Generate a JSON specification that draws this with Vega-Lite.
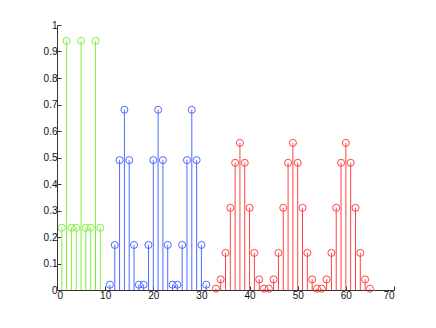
{
  "$schema": "https://vega.github.io/schema/vega-lite/v6.json",
  "width": 337,
  "height": 265,
  "autosize": {"type": "none"},
  "padding": {"left": 57, "top": 25, "right": 42, "bottom": 38},
  "background": "white",
  "config": {
    "view": {"stroke": null},
    "font": "Liberation Sans",
    "axis": {
      "grid": false,
      "domainColor": "#333333",
      "tickColor": "#333333",
      "tickSize": -4,
      "labelFont": "Liberation Sans",
      "labelFontSize": 10,
      "labelColor": "#111111",
      "title": null
    }
  },
  "data": {
    "values": [
      {"x": 1, "y": 0.235, "s": "g"},
      {"x": 2, "y": 0.94, "s": "g"},
      {"x": 3, "y": 0.235, "s": "g"},
      {"x": 4, "y": 0.235, "s": "g"},
      {"x": 5, "y": 0.94, "s": "g"},
      {"x": 6, "y": 0.235, "s": "g"},
      {"x": 7, "y": 0.235, "s": "g"},
      {"x": 8, "y": 0.94, "s": "g"},
      {"x": 9, "y": 0.235, "s": "g"},
      {"x": 11, "y": 0.02, "s": "b"},
      {"x": 12, "y": 0.17, "s": "b"},
      {"x": 13, "y": 0.49, "s": "b"},
      {"x": 14, "y": 0.68, "s": "b"},
      {"x": 15, "y": 0.49, "s": "b"},
      {"x": 16, "y": 0.17, "s": "b"},
      {"x": 17, "y": 0.02, "s": "b"},
      {"x": 18, "y": 0.02, "s": "b"},
      {"x": 19, "y": 0.17, "s": "b"},
      {"x": 20, "y": 0.49, "s": "b"},
      {"x": 21, "y": 0.68, "s": "b"},
      {"x": 22, "y": 0.49, "s": "b"},
      {"x": 23, "y": 0.17, "s": "b"},
      {"x": 24, "y": 0.02, "s": "b"},
      {"x": 25, "y": 0.02, "s": "b"},
      {"x": 26, "y": 0.17, "s": "b"},
      {"x": 27, "y": 0.49, "s": "b"},
      {"x": 28, "y": 0.68, "s": "b"},
      {"x": 29, "y": 0.49, "s": "b"},
      {"x": 30, "y": 0.17, "s": "b"},
      {"x": 31, "y": 0.02, "s": "b"},
      {"x": 33, "y": 0.005, "s": "r"},
      {"x": 34, "y": 0.04, "s": "r"},
      {"x": 35, "y": 0.14, "s": "r"},
      {"x": 36, "y": 0.31, "s": "r"},
      {"x": 37, "y": 0.48, "s": "r"},
      {"x": 38, "y": 0.555, "s": "r"},
      {"x": 39, "y": 0.48, "s": "r"},
      {"x": 40, "y": 0.31, "s": "r"},
      {"x": 41, "y": 0.14, "s": "r"},
      {"x": 42, "y": 0.04, "s": "r"},
      {"x": 43, "y": 0.005, "s": "r"},
      {"x": 44, "y": 0.005, "s": "r"},
      {"x": 45, "y": 0.04, "s": "r"},
      {"x": 46, "y": 0.14, "s": "r"},
      {"x": 47, "y": 0.31, "s": "r"},
      {"x": 48, "y": 0.48, "s": "r"},
      {"x": 49, "y": 0.555, "s": "r"},
      {"x": 50, "y": 0.48, "s": "r"},
      {"x": 51, "y": 0.31, "s": "r"},
      {"x": 52, "y": 0.14, "s": "r"},
      {"x": 53, "y": 0.04, "s": "r"},
      {"x": 54, "y": 0.005, "s": "r"},
      {"x": 55, "y": 0.005, "s": "r"},
      {"x": 56, "y": 0.04, "s": "r"},
      {"x": 57, "y": 0.14, "s": "r"},
      {"x": 58, "y": 0.31, "s": "r"},
      {"x": 59, "y": 0.48, "s": "r"},
      {"x": 60, "y": 0.555, "s": "r"},
      {"x": 61, "y": 0.48, "s": "r"},
      {"x": 62, "y": 0.31, "s": "r"},
      {"x": 63, "y": 0.14, "s": "r"},
      {"x": 64, "y": 0.04, "s": "r"},
      {"x": 65, "y": 0.005, "s": "r"}
    ]
  },
  "encoding": {
    "x": {
      "field": "x", "type": "quantitative",
      "scale": {"domain": [0, 70], "nice": false, "zero": false},
      "axis": {"values": [0, 10, 20, 30, 40, 50, 60, 70], "labelPadding": 4, "format": "d"}
    },
    "y": {
      "field": "y", "type": "quantitative",
      "scale": {"domain": [0, 1], "nice": false},
      "axis": {"values": [0, 0.1, 0.2, 0.3, 0.4, 0.5, 0.6, 0.7, 0.8, 0.9, 1], "labelPadding": 4, "format": ".1~f"}
    },
    "color": {
      "field": "s", "type": "nominal",
      "scale": {"domain": ["g", "b", "r"], "range": ["#84f03c", "#4d6bff", "#ff4444"]},
      "legend": null
    }
  },
  "layer": [
    {
      "mark": {"type": "rule", "strokeWidth": 1},
      "encoding": {"y2": {"datum": 0}}
    },
    {
      "mark": {"type": "point", "shape": "circle", "filled": false, "size": 50, "strokeWidth": 1, "opacity": 1}
    }
  ]
}
